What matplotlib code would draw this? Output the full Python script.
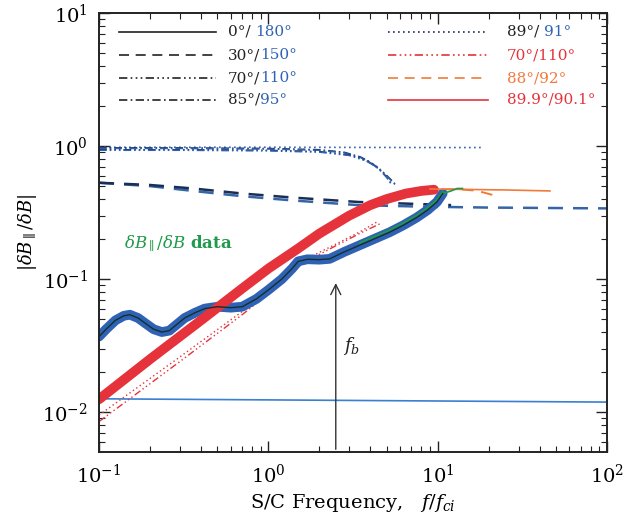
import numpy as np
import matplotlib
matplotlib.use("Agg")
import matplotlib.pyplot as plt
from matplotlib.ticker import LogLocator, NullFormatter

plt.rcParams['font.family'] = ['DejaVu Serif']
plt.rcParams['mathtext.fontset'] = 'dejavuserif'

# observed data (blue band + black/green traces)
data_x = [0.1, 0.11, 0.125, 0.14, 0.152, 0.17, 0.19, 0.21, 0.235, 0.26, 0.29, 0.32,
          0.37, 0.42, 0.5, 0.6, 0.7, 0.85, 1.0, 1.2, 1.38, 1.5, 1.7, 2.0, 2.3,
          2.8, 3.47, 4.2, 5.2, 6.3, 7.5, 8.7, 9.9, 10.7]
data_y = [0.037, 0.042, 0.049, 0.053, 0.054, 0.051, 0.046, 0.042, 0.040, 0.041, 0.046, 0.051,
          0.056, 0.060, 0.062, 0.061, 0.062, 0.071, 0.083, 0.100, 0.120, 0.136, 0.141, 0.140, 0.142,
          0.160, 0.180, 0.200, 0.225, 0.255, 0.290, 0.330, 0.380, 0.440]
green_x = [10.7, 12.0, 13.0, 14.0]
green_y = [0.44, 0.46, 0.48, 0.48]

# thick red model band
red_x = [0.1, 0.2, 0.4, 0.7, 1.0, 1.5, 2.0, 3.0, 4.0, 5.0, 6.5, 8.0, 9.5]
red_y = [0.0125, 0.025, 0.049, 0.085, 0.12, 0.17, 0.22, 0.30, 0.36, 0.40, 0.44, 0.46, 0.47]

# 89.9/90.1 thin orange solid
orng_x = [9.0, 15.0, 25.0, 46.0]
orng_y = [0.476, 0.472, 0.468, 0.46]
# 88/92 dashed (mostly hidden under red band)
dsh88_x = [0.1, 0.4, 1.0, 2.0, 4.0, 6.5, 9.5, 13.0, 17.0, 21.0]
dsh88_y = [0.0125, 0.049, 0.12, 0.22, 0.36, 0.44, 0.47, 0.475, 0.462, 0.43]
# 70/110 red dash-dot-dot and dotted
red70_x = [0.1, 0.3, 0.7, 1.2, 1.6, 2.5, 3.5, 4.6]
red70_y = [0.0085, 0.024, 0.054, 0.094, 0.132, 0.178, 0.222, 0.262]
redd_x = [0.1, 0.3, 0.7, 1.2, 1.6, 2.5, 3.5, 4.4]
redd_y = [0.0095, 0.026, 0.057, 0.098, 0.138, 0.183, 0.228, 0.27]

# blue/black oblique curves
dot_x = [0.1, 1.0, 10.0, 18.5]
dot_y = [0.98, 0.98, 0.975, 0.975]
dd85_x = [0.1, 0.3, 1.0, 2.0, 2.8, 3.5, 4.0, 4.5, 5.0, 5.3]
dd85_y = [0.96, 0.96, 0.95, 0.93, 0.89, 0.82, 0.75, 0.67, 0.58, 0.52]
dd70_x = [0.1, 0.3, 1.0, 2.0, 3.0, 3.8, 4.4, 4.9, 5.4, 5.7]
dd70_y = [0.93, 0.93, 0.92, 0.90, 0.85, 0.77, 0.69, 0.61, 0.54, 0.50]
d30k_x = [0.1, 0.2, 0.36, 0.7, 1.4, 3.4, 8.6, 12.0]
d30k_y = [0.53, 0.51, 0.48, 0.44, 0.41, 0.38, 0.365, 0.36]
d30b_x = [0.1, 0.2, 0.36, 0.7, 1.4, 3.4, 8.6, 20.0, 100.0]
d30b_y = [0.53, 0.50, 0.46, 0.42, 0.39, 0.36, 0.35, 0.345, 0.34]
hline_x = [0.1, 100.0]
hline_y = [0.0126, 0.0119]

f_b = 2.5

blue = '#2f62b5'
navy = '#1b2f55'
red = '#e5323b'
orange = '#f07a3a'

fig = plt.figure(figsize=(6.35, 5.22), dpi=100)
ax = fig.add_axes([0.156, 0.134, 0.800, 0.841])

ax.plot(hline_x, hline_y, color='#3a7fd0', lw=1.2)
ax.plot(dot_x, dot_y, color=blue, lw=1.2, ls=(0, (1, 2)))
ax.plot(dd85_x, [v * 1.01 for v in dd85_y], color=navy, lw=1.1, ls=(0, (5, 2, 1, 2)))
ax.plot(dd85_x, dd85_y, color=blue, lw=1.1, ls=(0, (5, 2, 1, 2)))
ax.plot(dd70_x, [v * 1.01 for v in dd70_y], color=navy, lw=1.1, ls=(0, (5, 2, 1, 2, 1, 2, 1, 2)))
ax.plot(dd70_x, dd70_y, color=blue, lw=1.1, ls=(0, (5, 2, 1, 2, 1, 2, 1, 2)))
ax.plot(d30b_x, d30b_y, color='#3565a8', lw=1.8, ls=(0, (6, 4)))
ax.plot(d30k_x, d30k_y, color=navy, lw=1.8, ls=(0, (6, 4)))

ax.plot(dsh88_x, dsh88_y, color=orange, lw=1.4, ls=(0, (6, 4)))
ax.plot(red70_x, red70_y, color=red, lw=1.0, ls=(0, (5, 2, 1, 2, 1, 2, 1, 2)))
ax.plot(redd_x, redd_y, color=red, lw=1.0, ls=(0, (1, 2)))
ax.plot(data_x, data_y, color=blue, lw=7, solid_capstyle='round', solid_joinstyle='round')
ax.plot(red_x, red_y, color=red, lw=7, solid_capstyle='round', solid_joinstyle='round')
ax.plot(orng_x, orng_y, color=orange, lw=1.2)
ax.plot(data_x[-8:] + green_x, [v * 1.04 for v in data_y[-8:]] + green_y, color='#1f9a4a', lw=1.2)
ax.plot(data_x, data_y, color='#12302a', lw=1.0)

ax.annotate('', xy=(f_b, 0.098), xytext=(f_b, 10 ** -2.3),
            arrowprops=dict(arrowstyle='->', color='#333333', lw=1.0, mutation_scale=18))
ax.text(2.75, 0.029, r'$f_b$', fontsize=13, color='#222222')
ax.text(0.14, 0.17, r'$\delta B_{\parallel}/\delta B$ data', fontsize=12,
        color='#1f9a4a', fontweight='bold')

ax.set_xscale('log')
ax.set_yscale('log')
ax.set_xlim(0.1, 100)
ax.set_ylim(10 ** -2.3, 10)
ax.xaxis.set_major_locator(LogLocator(base=10, numticks=10))
ax.yaxis.set_major_locator(LogLocator(base=10, numticks=10))
ax.xaxis.set_minor_locator(LogLocator(base=10, subs=np.arange(2, 10), numticks=20))
ax.yaxis.set_minor_locator(LogLocator(base=10, subs=np.arange(2, 10), numticks=20))
ax.xaxis.set_minor_formatter(NullFormatter())
ax.yaxis.set_minor_formatter(NullFormatter())
ax.tick_params(which='both', direction='in', top=True, right=True, labelsize=14, color='#222222')
ax.tick_params(which='major', length=8, width=1.0, pad=8)
ax.tick_params(which='minor', length=4, width=0.8)
for sp in ax.spines.values():
    sp.set_linewidth(1.4)
    sp.set_color('#222222')

ax.set_xlabel(r'S/C Frequency,   $f/f_{ci}$', fontsize=14, labelpad=4)
ax.set_ylabel(r'$|\delta B_{\parallel}/\delta B|$', fontsize=13, labelpad=2)

# hand-drawn legend, two columns
left_styles = ['-', (0, (6, 4)), (0, (5, 2, 1, 2, 1, 2, 1, 2)), (0, (5, 2, 1, 2))]
left_a = ['0°/ ', '30°/', '70°/', '85°/']
left_b = ['180°', '150°', '110°', '95°']
right_styles = [(0, (1, 2)), (0, (5, 2, 1, 2, 1, 2, 1, 2)), (0, (6, 4)), '-']
right_a = ['89°/ ', '70°/110°', '88°/92°', '89.9°/90.1°']
right_b = ['91°', '', '', '']
right_line_col = [navy, red, orange, red]
right_txt_col = ['#222222', red, orange, red]
rows = [0.957, 0.904, 0.852, 0.802]

for i, yy in enumerate(rows):
    ax.plot([0.04, 0.23], [yy, yy], transform=ax.transAxes, color='#222222',
            lw=1.2, ls=left_styles[i])
    t = ax.text(0.254, yy, left_a[i], transform=ax.transAxes, fontsize=11,
                va='center', color='#222222')
    ax.annotate(left_b[i], xy=(1, 0), xycoords=t, va='bottom', fontsize=11, color=blue)

    ax.plot([0.569, 0.766], [yy, yy], transform=ax.transAxes, color=right_line_col[i],
            lw=1.2, ls=right_styles[i])
    t2 = ax.text(0.803, yy, right_a[i], transform=ax.transAxes, fontsize=11,
                 va='center', color=right_txt_col[i])
    if right_b[i]:
        ax.annotate(right_b[i], xy=(1, 0), xycoords=t2, va='bottom', fontsize=11, color=blue)

fig.savefig('out.png', dpi=100)
